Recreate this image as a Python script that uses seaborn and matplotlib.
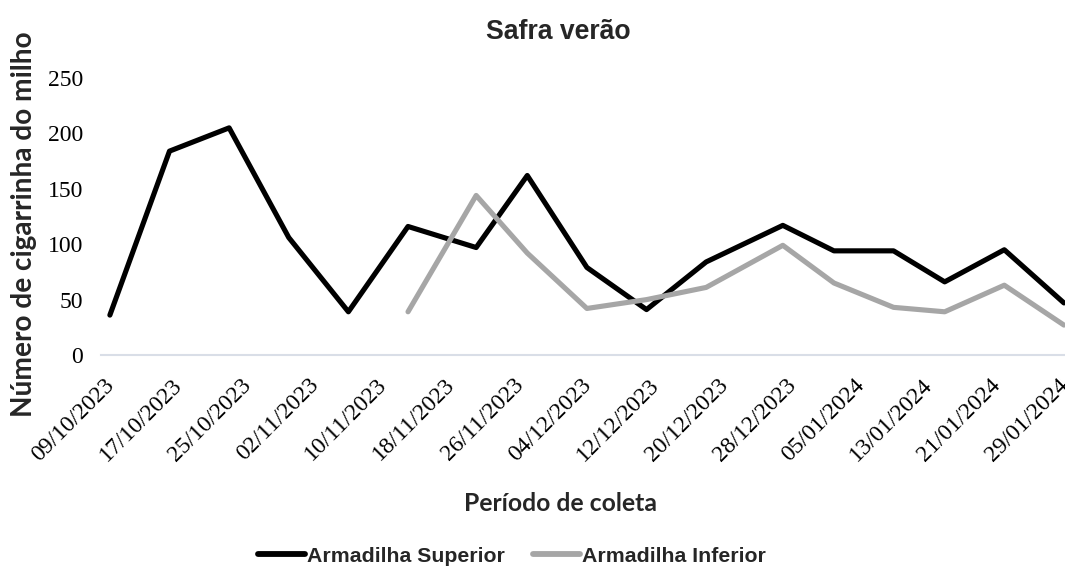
import numpy as np
import pandas as pd
import matplotlib
matplotlib.use("Agg")
import matplotlib.pyplot as plt
import matplotlib.dates as mdates
import seaborn as sns

# ---------------- data ----------------
dates = ["09/10/2023", "16/10/2023", "23/10/2023", "30/10/2023", "06/11/2023",
         "13/11/2023", "21/11/2023", "27/11/2023", "04/12/2023", "11/12/2023",
         "18/12/2023", "27/12/2023", "02/01/2024", "09/01/2024", "15/01/2024",
         "22/01/2024", "29/01/2024"]
superior = [36, 184, 205, 106, 39, 116, 97, 162, 79, 41, 84, 117, 94, 94, 66, 95, 47]
inferior_dates = dates[5:]
inferior = [39, 144, 92, 42, 50, 61, 99, 65, 43, 39, 63, 27]
tick_labels = ["09/10/2023", "17/10/2023", "25/10/2023", "02/11/2023", "10/11/2023",
               "18/11/2023", "26/11/2023", "04/12/2023", "12/12/2023", "20/12/2023",
               "28/12/2023", "05/01/2024", "13/01/2024", "21/01/2024", "29/01/2024"]
series_names = ["Armadilha Superior", "Armadilha Inferior"]
y_ticks = [0, 50, 100, 150, 200, 250]

df = pd.concat([
    pd.DataFrame({"data": pd.to_datetime(dates, dayfirst=True), "valor": superior,
                  "serie": series_names[0]}),
    pd.DataFrame({"data": pd.to_datetime(inferior_dates, dayfirst=True), "valor": inferior,
                  "serie": series_names[1]}),
], ignore_index=True)
# Excel-like placement of points within the day
df["xplot"] = df["data"] + pd.Timedelta(hours=17)

# ---------------- figure ----------------
sns.set_style("white")
fig = plt.figure(figsize=(10.65, 5.72), dpi=100)
ax = fig.add_axes([101 / 1065, 1 - 355 / 572, 964 / 1065, 277 / 572])

palette = {series_names[0]: "#000000", series_names[1]: "#A6A6A6"}
sns.lineplot(data=df, x="xplot", y="valor", hue="serie", palette=palette,
             linewidth=3.7, ax=ax, sort=True, estimator=None,
             solid_joinstyle="round", solid_capstyle="round")

handles, labels = ax.get_legend_handles_labels()
if ax.get_legend() is not None:
    ax.get_legend().remove()

t0 = pd.to_datetime(tick_labels[0], dayfirst=True)
t1 = pd.to_datetime(tick_labels[-1], dayfirst=True)
ax.set_xlim(t0 - pd.Timedelta(hours=8), t1 + pd.Timedelta(hours=20))
ax.set_ylim(0, 250)

tick_pos = pd.to_datetime(tick_labels, dayfirst=True)
ax.set_xticks(tick_pos)
ax.set_xticklabels(tick_labels, rotation=45, ha="right", va="top",
                   rotation_mode="anchor", fontfamily="Liberation Serif", fontsize=17)
ax.set_yticks(y_ticks)
ax.set_yticklabels([str(v) for v in y_ticks], fontfamily="Liberation Serif", fontsize=17)

axis_col = "#D9DEE7"
for s in ["top", "right", "left"]:
    ax.spines[s].set_visible(False)
ax.spines["bottom"].set_color(axis_col)
ax.spines["bottom"].set_linewidth(1.5)
ax.tick_params(axis="x", direction="out", length=5, width=1.5, color=axis_col,
               pad=9, labelcolor="#000000")
ax.tick_params(axis="y", length=0, pad=13, labelcolor="#000000")
ax.grid(False)

ax.set_xlabel("Período de coleta", fontfamily="Lato", fontweight="bold", fontsize=17.8)
ax.xaxis.set_label_coords((560 - 101) / 964, (355 - 492) / 277)
ax.set_ylabel("Número de cigarrinha do milho", fontfamily="Lato", fontweight="bold",
              fontsize=20.2)
ax.yaxis.set_label_coords((37 - 101) / 964, (355 - 224) / 277)

fig.text(558 / 1065, 1 - 32 / 572, "Safra verão", ha="center", va="center",
         fontfamily="Liberation Sans", fontweight="bold", fontsize=19.2)

leg = fig.legend(handles, labels, loc="center", bbox_to_anchor=(512 / 1065, 1 - 556 / 572),
                 ncol=2, frameon=False, handlelength=2.2, handletextpad=0.1,
                 columnspacing=1.3,
                 prop={"family": "Liberation Sans", "weight": "bold", "size": 15.3})
for h in leg.get_lines():
    h.set_linewidth(4.2)

fig.savefig("out.png", dpi=100)
